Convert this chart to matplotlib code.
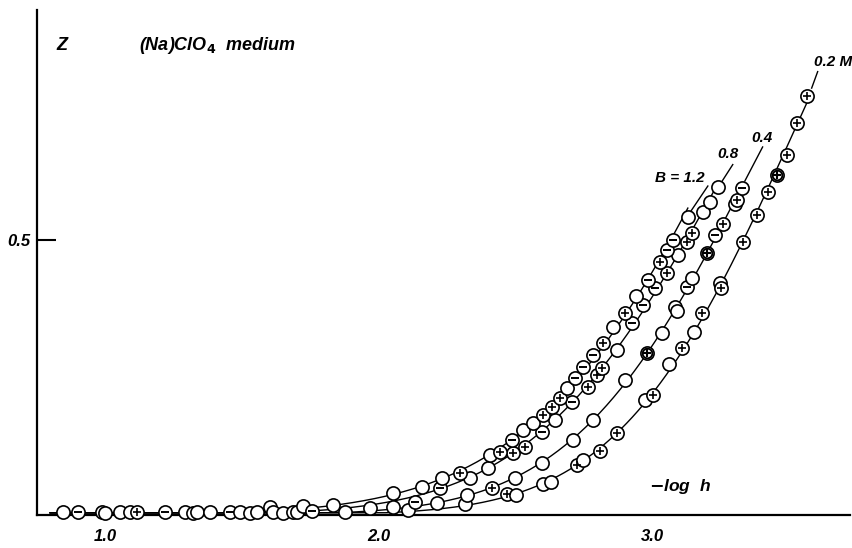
import numpy as np
import matplotlib
matplotlib.use("Agg")
import matplotlib.pyplot as plt

# ---------------- data ----------------
# points lying on the baseline (common to all media)
base_x = [0.847, 0.901, 0.989, 1.000, 1.055, 1.091, 1.117, 1.219, 1.292, 1.321,
          1.336, 1.383, 1.456, 1.493, 1.529, 1.555, 1.602, 1.613, 1.650, 1.686,
          1.700, 1.723, 1.756, 1.832, 1.876]
base_z = [0.005, 0.005, 0.005, 0.004, 0.005, 0.005, 0.005, 0.005, 0.005, 0.004,
          0.005, 0.005, 0.006, 0.005, 0.004, 0.005, 0.014, 0.005, 0.004, 0.005,
          0.006, 0.016, 0.008, 0.018, 0.006]
base_s = ["o", "-", "o", "o", "o", "o", "+", "-", "o", "o",
          "o", "o", "-", "o", "o", "o", "o", "o", "o", "o",
          "o", "o", "-", "o", "o"]

# B = 0.2 M
c02_x = [2.106, 2.314, 2.467, 2.500, 2.600, 2.630, 2.723, 2.745, 2.807, 2.869,
         2.970, 3.000, 3.060, 3.106, 3.150, 3.180, 3.245, 3.250, 3.330, 3.380,
         3.420, 3.453, 3.489, 3.526, 3.562]
c02_z = [0.009, 0.020, 0.038, 0.036, 0.057, 0.060, 0.091, 0.100, 0.116, 0.149,
         0.209, 0.218, 0.275, 0.304, 0.333, 0.367, 0.422, 0.412, 0.496, 0.545,
         0.587, 0.618, 0.655, 0.713, 0.762]
c02_s = ["o", "o", "+", "o", "o", "o", "+", "o", "+", "+",
         "o", "+", "o", "+", "o", "+", "o", "+", "+", "+",
         "+", "*", "+", "+", "+"]

# B = 0.4 M
c04_x = [2.050, 2.212, 2.321, 2.412, 2.496, 2.595, 2.708, 2.781, 2.898, 2.978,
         3.033, 3.080, 3.090, 3.124, 3.142, 3.197, 3.226, 3.255, 3.300, 3.307,
         3.325]
c04_z = [0.015, 0.022, 0.036, 0.049, 0.067, 0.095, 0.136, 0.173, 0.245, 0.295,
         0.331, 0.378, 0.371, 0.415, 0.431, 0.476, 0.509, 0.529, 0.565, 0.573,
         0.595]
c04_s = ["o", "o", "o", "+", "o", "o", "o", "o", "o", "*",
         "o", "o", "o", "-", "o", "*", "-", "+", "o", "+",
         "-"]

# B = 0.8 M
c08_x = [1.967, 2.131, 2.223, 2.332, 2.398, 2.489, 2.533, 2.595, 2.642, 2.704,
         2.763, 2.796, 2.814, 2.869, 2.923, 2.963, 3.007, 3.051, 3.091, 3.124,
         3.142, 3.182, 3.208, 3.237]
c08_z = [0.013, 0.024, 0.049, 0.067, 0.085, 0.113, 0.124, 0.151, 0.173, 0.205,
         0.233, 0.255, 0.267, 0.300, 0.349, 0.382, 0.413, 0.440, 0.473, 0.496,
         0.513, 0.551, 0.569, 0.596]
c08_s = ["o", "-", "-", "o", "o", "+", "+", "-", "o", "-",
         "+", "+", "+", "o", "-", "-", "-", "+", "o", "+",
         "+", "o", "o", "o"]

# B = 1.2 M
c12_x = [2.051, 2.157, 2.230, 2.296, 2.405, 2.442, 2.485, 2.526, 2.562, 2.599,
         2.631, 2.661, 2.686, 2.715, 2.745, 2.781, 2.818, 2.854, 2.898, 2.940,
         2.982, 3.026, 3.051, 3.073, 3.128]
c12_z = [0.040, 0.051, 0.067, 0.076, 0.109, 0.115, 0.136, 0.155, 0.167, 0.182,
         0.196, 0.213, 0.231, 0.249, 0.269, 0.291, 0.313, 0.342, 0.367, 0.398,
         0.427, 0.460, 0.482, 0.500, 0.542]
c12_s = ["o", "o", "o", "+", "o", "+", "-", "o", "o", "+",
         "+", "+", "o", "-", "-", "-", "+", "o", "+", "o",
         "-", "+", "-", "-", "o"]

curve_labels = ["0.2 M", "0.4", "0.8", "B = 1.2"]
x_ticks = [1.0, 2.0, 3.0]
x_tick_labels = ["1.0", "2.0", "3.0"]
y_ticks = [0.5]
y_tick_labels = ["0.5"]

BASE_LEVEL = 0.004

# ---------------- figure ----------------
fig = plt.figure(figsize=(8.52, 5.48), dpi=100)
ax = fig.add_axes([37 / 852, 1 - 515 / 548, (850 - 37) / 852, (515 - 10) / 548])
ax.set_xlim(0.752, 3.72)
ax.set_ylim(0.0, 0.918)

for s in ["top", "right"]:
    ax.spines[s].set_visible(False)
for s in ["left", "bottom"]:
    ax.spines[s].set_linewidth(1.6)

fontkw = dict(family="Liberation Sans", style="italic", weight="bold")


def draw_markers(xs, zs, syms):
    for x, z, s in zip(xs, zs, syms):
        ax.plot([x], [z], marker="o", ms=9.5, mfc="white", mec="black", mew=1.2,
                linestyle="none", zorder=4, clip_on=False)
        if s == "+":
            ax.plot([x], [z], marker="+", ms=6, mec="black", mew=1.2,
                    linestyle="none", zorder=5, clip_on=False)
        elif s == "-":
            ax.plot([x], [z], marker="_", ms=6, mec="black", mew=1.4,
                    linestyle="none", zorder=5, clip_on=False)
        elif s == "*":
            ax.plot([x], [z], marker="o", ms=7, mfc="none", mec="black", mew=1.4,
                    linestyle="none", zorder=5, clip_on=False)
            ax.plot([x], [z], marker="+", ms=6, mec="black", mew=1.5,
                    linestyle="none", zorder=5, clip_on=False)


curves = [(c02_x, c02_z, c02_s), (c04_x, c04_z, c04_s),
          (c08_x, c08_z, c08_s), (c12_x, c12_z, c12_s)]

for xs, zs, syms in curves:
    xa = np.array(xs)
    za = np.array(zs)
    sel = za > 0.03
    coef = np.polyfit(xa[sel], np.log(za[sel]), 2)
    xg = np.linspace(0.80, xa.max(), 400)
    zg = np.maximum(np.exp(np.polyval(coef, xg)), BASE_LEVEL)
    ax.plot(xg, zg, color="black", lw=1.0, zorder=3, clip_on=False)
    draw_markers(xs, zs, syms)

draw_markers(base_x, base_z, base_s)

# leader lines and curve labels
leaders = [((3.580, 0.776), (3.602, 0.806)),
           ((3.336, 0.607), (3.401, 0.669)),
           ((3.252, 0.606), (3.292, 0.637)),
           ((3.140, 0.553), (3.201, 0.598))]
label_pos = [(3.658, 0.824), (3.398, 0.686), (3.275, 0.656), (3.100, 0.612)]
for (p0, p1), txt, pos in zip(leaders, curve_labels, label_pos):
    ax.plot([p0[0], p1[0]], [p0[1], p1[1]], color="black", lw=1.0, zorder=3)
    ax.text(pos[0], pos[1], txt, ha="center", va="center", fontsize=11, **fontkw)

# axis texts
ax.text(0.843, 0.853, "Z", ha="center", va="center", fontsize=13, **fontkw)
ax.text(1.125, 0.853, r"(Na)ClO$_\mathbf{4}$  medium", ha="left", va="center",
        fontsize=13, **fontkw)
ax.text(3.099, 0.051, r"$\mathbf{-}$log  h", ha="center", va="center",
        fontsize=12.5, **fontkw)

# ticks
ax.set_xticks(x_ticks)
ax.set_xticklabels(x_tick_labels, fontsize=12, **fontkw)
ax.tick_params(axis="x", length=0, pad=10)
ax.set_xticks([3.0], minor=True)
ax.tick_params(axis="x", which="minor", direction="in", length=10, width=1.5)

ax.set_yticks(y_ticks)
ax.set_yticklabels(y_tick_labels, fontsize=12, **fontkw)
ax.tick_params(axis="y", direction="in", length=14, width=1.5, pad=5)

fig.savefig("out.png", dpi=100)
